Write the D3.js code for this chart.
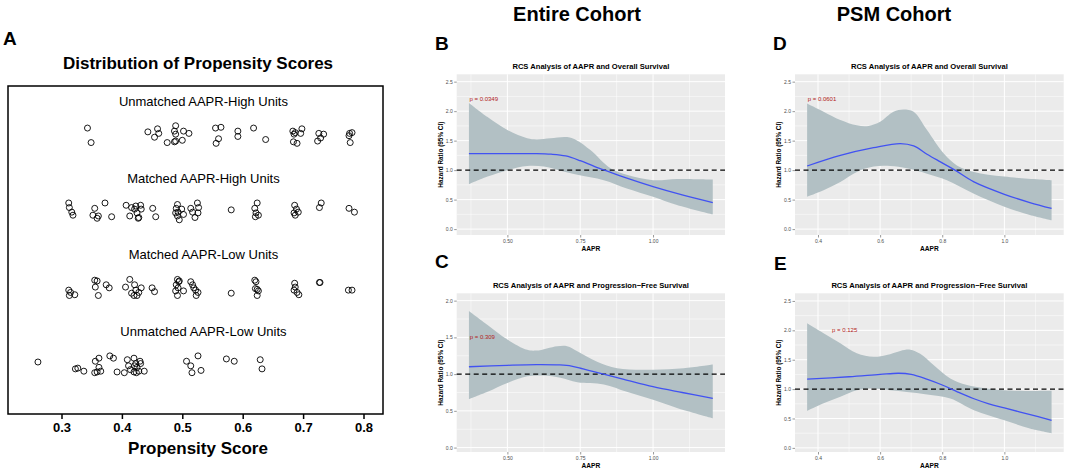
<!DOCTYPE html>
<html><head><meta charset="utf-8">
<script src="https://cdnjs.cloudflare.com/ajax/libs/d3/7.8.5/d3.min.js"></script>
<style>
body{margin:0;background:#fff}
svg{display:block;font-family:Arial,"Liberation Sans",sans-serif}
</style>
</head><body><div id="chart"></div>
<script>
// ---- panel A data: [propensity score, vertical jitter] ----
var scoreTicks = [0.3, 0.4, 0.5, 0.6, 0.7, 0.8];
var rowLabels = ["Unmatched AAPR-High Units", "Matched AAPR-High Units", "Matched AAPR-Low Units", "Unmatched AAPR-Low Units"];
var unmatchedHigh = [[0.343,0.09],[0.349,-0.10],[0.443,0.04],[0.454,-0.03],[0.459,0.08],[0.461,0.02],[0.475,-0.10],[0.489,0.12],[0.487,0.05],[0.489,0.01],[0.489,-0.08],[0.487,-0.09],[0.500,-0.07],[0.502,0.05],[0.511,0.02],[0.555,0.09],[0.564,0.10],[0.560,-0.05],[0.556,-0.11],[0.592,0.05],[0.592,-0.02],[0.618,0.09],[0.638,-0.06],[0.683,0.05],[0.685,0.01],[0.687,0.03],[0.684,-0.09],[0.690,-0.11],[0.698,0.08],[0.696,0.02],[0.726,0.02],[0.734,0.01],[0.729,-0.04],[0.724,-0.08],[0.777,0.02],[0.781,0.03],[0.776,-0.01],[0.778,-0.10]];
var matchedHigh = [[0.312,0.11],[0.313,0.05],[0.317,-0.01],[0.319,-0.05],[0.355,0.04],[0.352,-0.05],[0.359,-0.09],[0.361,-0.06],[0.372,0.11],[0.383,-0.07],[0.407,0.08],[0.416,0.05],[0.413,-0.06],[0.421,0.03],[0.425,-0.02],[0.428,-0.08],[0.423,0.07],[0.431,0.08],[0.432,0.03],[0.427,-0.09],[0.451,0.04],[0.456,-0.07],[0.492,0.09],[0.490,0.04],[0.489,-0.02],[0.493,-0.01],[0.495,-0.11],[0.499,0.03],[0.502,-0.04],[0.492,-0.06],[0.514,0.04],[0.517,-0.01],[0.521,-0.08],[0.525,0.11],[0.527,0.05],[0.526,-0.02],[0.581,0.02],[0.624,0.11],[0.620,0.04],[0.622,-0.02],[0.621,-0.07],[0.626,-0.05],[0.686,0.08],[0.689,0.03],[0.692,-0.01],[0.687,-0.05],[0.685,-0.02],[0.730,0.11],[0.727,0.05],[0.776,0.04],[0.785,-0.01]];
var matchedLow = [[0.312,-0.03],[0.315,-0.06],[0.322,-0.09],[0.313,-0.10],[0.355,0.10],[0.359,0.09],[0.356,0.01],[0.361,-0.10],[0.374,0.04],[0.379,0.00],[0.406,0.01],[0.413,0.11],[0.421,0.04],[0.416,-0.07],[0.423,-0.03],[0.425,-0.10],[0.428,-0.06],[0.432,0.00],[0.420,-0.10],[0.450,0.00],[0.454,-0.05],[0.492,0.11],[0.494,0.08],[0.490,0.04],[0.493,0.00],[0.489,-0.04],[0.492,-0.10],[0.495,0.09],[0.502,-0.04],[0.514,0.08],[0.517,0.04],[0.519,0.00],[0.522,-0.03],[0.526,-0.06],[0.523,-0.10],[0.581,-0.07],[0.620,0.10],[0.622,0.08],[0.621,-0.01],[0.624,-0.02],[0.626,-0.04],[0.624,-0.10],[0.686,0.06],[0.687,0.01],[0.685,-0.03],[0.690,-0.06],[0.693,-0.09],[0.727,0.07],[0.728,0.07],[0.775,-0.03],[0.781,-0.03]];
var unmatchedLow = [[0.261,0.03],[0.323,-0.06],[0.327,-0.05],[0.337,-0.09],[0.356,0.04],[0.355,-0.11],[0.362,0.08],[0.362,-0.04],[0.365,-0.09],[0.359,-0.10],[0.380,0.11],[0.386,0.08],[0.392,-0.10],[0.404,-0.11],[0.409,0.06],[0.411,-0.02],[0.420,0.08],[0.423,0.01],[0.414,-0.07],[0.425,-0.04],[0.430,0.04],[0.431,0.01],[0.424,-0.11],[0.420,-0.10],[0.428,-0.09],[0.437,-0.09],[0.421,-0.02],[0.507,0.04],[0.514,-0.02],[0.526,0.11],[0.516,-0.11],[0.531,-0.08],[0.573,0.07],[0.586,0.04],[0.629,0.06],[0.632,-0.06]];

// ---- RCS curves: [AAPR, hazard ratio] ----
var entireOsHr = [[0.368,1.28],[0.50,1.28],[0.60,1.28],[0.65,1.27],[0.70,1.24],[0.75,1.16],[0.80,1.06],[0.85,0.97],[0.90,0.88],[1.0,0.72],[1.10,0.58],[1.205,0.45]];
var entireOsUpper = [[0.368,2.14],[0.432,1.90],[0.50,1.68],[0.568,1.54],[0.60,1.52],[0.648,1.54],[0.705,1.56],[0.74,1.50],[0.785,1.34],[0.854,1.03],[0.91,0.92],[1.0,0.83],[1.082,0.85],[1.205,0.84]];
var entireOsLower = [[0.368,0.76],[0.432,0.89],[0.50,1.00],[0.568,1.07],[0.625,1.06],[0.682,0.99],[0.74,0.92],[0.831,0.83],[0.91,0.69],[1.0,0.55],[1.082,0.41],[1.205,0.25]];
var entirePfsHr = [[0.368,1.10],[0.50,1.12],[0.60,1.13],[0.68,1.125],[0.72,1.11],[0.76,1.07],[0.80,1.03],[0.84,0.99],[0.90,0.93],[1.0,0.83],[1.10,0.75],[1.205,0.67]];
var entirePfsUpper = [[0.368,1.86],[0.432,1.67],[0.50,1.47],[0.568,1.33],[0.60,1.32],[0.671,1.38],[0.705,1.38],[0.74,1.31],[0.808,1.17],[0.877,1.08],[1.0,1.06],[1.105,1.08],[1.205,1.13]];
var entirePfsLower = [[0.368,0.66],[0.432,0.76],[0.50,0.88],[0.568,0.97],[0.625,0.98],[0.682,0.95],[0.74,0.89],[0.831,0.86],[0.91,0.76],[1.0,0.65],[1.082,0.54],[1.205,0.40]];
var psmOsHr = [[0.365,1.07],[0.472,1.25],[0.579,1.38],[0.665,1.45],[0.708,1.41],[0.751,1.27],[0.794,1.14],[0.841,1.0],[0.902,0.80],[1.0,0.59],[1.082,0.45],[1.152,0.35]];
var psmOsUpper = [[0.365,2.13],[0.418,1.99],[0.472,1.85],[0.525,1.76],[0.563,1.75],[0.60,1.82],[0.643,1.99],[0.675,2.03],[0.708,1.99],[0.751,1.68],[0.805,1.28],[0.847,1.08],[0.902,0.97],[1.0,0.89],[1.152,0.83]];
var psmOsLower = [[0.365,0.55],[0.418,0.66],[0.472,0.80],[0.525,0.97],[0.579,1.06],[0.633,1.07],[0.686,1.03],[0.751,0.94],[0.815,0.83],[0.902,0.60],[1.0,0.38],[1.082,0.24],[1.152,0.15]];
var psmPfsHr = [[0.365,1.17],[0.50,1.21],[0.60,1.25],[0.66,1.27],[0.70,1.25],[0.75,1.17],[0.80,1.07],[0.85,0.95],[0.90,0.84],[0.95,0.75],[1.0,0.68],[1.08,0.57],[1.152,0.47]];
var psmPfsUpper = [[0.365,2.12],[0.418,1.95],[0.472,1.78],[0.525,1.61],[0.579,1.55],[0.621,1.58],[0.665,1.65],[0.697,1.67],[0.729,1.60],[0.772,1.41],[0.826,1.18],[0.88,1.07],[1.0,0.98],[1.152,0.97]];
var psmPfsLower = [[0.365,0.63],[0.418,0.76],[0.472,0.87],[0.525,0.98],[0.579,1.01],[0.633,0.98],[0.686,0.95],[0.751,0.91],[0.826,0.84],[0.902,0.64],[1.0,0.47],[1.082,0.33],[1.152,0.25]];

var entireXTicks = [0.50, 0.75, 1.00];
var psmXTicks = [0.4, 0.6, 0.8, 1.0];
var hrTicks = [0.0, 0.5, 1.0, 1.5, 2.0, 2.5];
var hrTicksPfs = [0.0, 0.5, 1.0, 1.5, 2.0];

var svg = d3.select("#chart").append("svg").attr("width", 1065).attr("height", 472);

// ---------- headers and panel letters ----------
svg.append("text").attr("x", 577).attr("y", 21).attr("text-anchor", "middle")
	.attr("font-size", 20).attr("font-weight", "bold").text("Entire Cohort");
svg.append("text").attr("x", 894).attr("y", 21).attr("text-anchor", "middle")
	.attr("font-size", 20).attr("font-weight", "bold").text("PSM Cohort");
var letters = [["A", 3, 45], ["B", 435, 50], ["C", 435, 268], ["D", 773, 50], ["E", 774, 270]];
letters.forEach(function(l){
	svg.append("text").attr("x", l[1]).attr("y", l[2]).attr("font-size", 19)
		.attr("font-weight", "bold").text(l[0]);
});

// ---------- panel A ----------
var box = {left: 8, right: 383, top: 86, bottom: 414};
var xs = d3.scaleLinear().domain([0.3, 0.8]).range([61.5, 363.5]);
var ys = d3.scaleLinear().domain([0.35, 4.64]).range([box.bottom, box.top]);

svg.append("text").attr("x", 198).attr("y", 69).attr("text-anchor", "middle")
	.attr("font-size", 17).attr("font-weight", "bold").text("Distribution of Propensity Scores");

var rows = [unmatchedHigh, matchedHigh, matchedLow, unmatchedLow];
rows.forEach(function(pts, i){
	var level = 4 - i;
	svg.append("text").attr("x", xs(0.535)).attr("y", ys(level + 0.42))
		.attr("text-anchor", "middle").attr("dominant-baseline", "middle")
		.attr("font-size", 13).text(rowLabels[i]);
	svg.append("g").selectAll("circle").data(pts).enter().append("circle")
		.attr("cx", function(d){ return xs(d[0]); })
		.attr("cy", function(d){ return ys(level + d[1]); })
		.attr("r", 3)
		.attr("fill", "none").attr("stroke", "#000").attr("stroke-width", 0.9);
});

svg.append("rect").attr("x", box.left).attr("y", box.top)
	.attr("width", box.right - box.left).attr("height", box.bottom - box.top)
	.attr("fill", "none").attr("stroke", "#000").attr("stroke-width", 1.5);

var axA = svg.append("g").attr("transform", "translate(0," + box.bottom + ")")
	.call(d3.axisBottom(xs).tickValues(scoreTicks).tickFormat(d3.format(".1f")).tickSize(5).tickPadding(4));
axA.select(".domain").remove();
axA.selectAll("line").attr("stroke-width", 1.5);
axA.selectAll("text").attr("font-size", 13).attr("font-weight", "bold")
	.attr("font-family", "Arial, 'Liberation Sans', sans-serif");
svg.append("text").attr("x", 198).attr("y", 454).attr("text-anchor", "middle")
	.attr("font-size", 17).attr("font-weight", "bold").text("Propensity Score");

// ---------- RCS panels ----------
function drawRcs(cfg){
	var g = svg.append("g");
	var x = d3.scaleLinear().domain(cfg.xDomain).range([cfg.left, cfg.right]);
	var y = d3.scaleLinear().domain(cfg.yDomain).range([cfg.bottom, cfg.top]);

	g.append("rect").attr("x", cfg.left).attr("y", cfg.top)
		.attr("width", cfg.right - cfg.left).attr("height", cfg.bottom - cfg.top).attr("fill", "#EBEBEB");

	var xMinor = [], yMinor = [];
	var step = cfg.xTicks[1] - cfg.xTicks[0];
	cfg.xTicks.forEach(function(t){
		[t - step/2, t + step/2].forEach(function(v){
			v = +v.toFixed(4);
			if (v > cfg.xDomain[0] && v < cfg.xDomain[1] && xMinor.indexOf(v) < 0) xMinor.push(v);
		});
	});
	cfg.yTicks.forEach(function(t){
		if (t + 0.25 < cfg.yDomain[1]) yMinor.push(t + 0.25);
	});
	g.selectAll(".xmin").data(xMinor).enter().append("line")
		.attr("x1", function(d){ return x(d); }).attr("x2", function(d){ return x(d); })
		.attr("y1", cfg.top).attr("y2", cfg.bottom).attr("stroke", "#fff").attr("stroke-width", 0.5);
	g.selectAll(".ymin").data(yMinor).enter().append("line")
		.attr("y1", function(d){ return y(d); }).attr("y2", function(d){ return y(d); })
		.attr("x1", cfg.left).attr("x2", cfg.right).attr("stroke", "#fff").attr("stroke-width", 0.5);
	g.selectAll(".xmaj").data(cfg.xTicks).enter().append("line")
		.attr("x1", function(d){ return x(d); }).attr("x2", function(d){ return x(d); })
		.attr("y1", cfg.top).attr("y2", cfg.bottom).attr("stroke", "#fff").attr("stroke-width", 1);
	g.selectAll(".ymaj").data(cfg.yTicks).enter().append("line")
		.attr("y1", function(d){ return y(d); }).attr("y2", function(d){ return y(d); })
		.attr("x1", cfg.left).attr("x2", cfg.right).attr("stroke", "#fff").attr("stroke-width", 1);

	var line = d3.line().x(function(d){ return x(d[0]); }).y(function(d){ return y(d[1]); })
		.curve(d3.curveCatmullRom.alpha(0.5));
	var upperPath = line(cfg.upper);
	var lowerPath = line(cfg.lower.slice().reverse());
	g.append("path").attr("d", upperPath + "L" + lowerPath.slice(1) + "Z")
		.attr("fill", "#b2c0c4").attr("stroke", "none");

	g.append("line").attr("x1", cfg.left).attr("x2", cfg.right)
		.attr("y1", y(1)).attr("y2", y(1))
		.attr("stroke", "#000").attr("stroke-width", 1.3).attr("stroke-dasharray", "5,3.5");

	g.append("path").attr("d", line(cfg.hr)).attr("fill", "none")
		.attr("stroke", "#4152f2").attr("stroke-width", 1.3);

	g.append("text").attr("x", x(cfg.pPos[0])).attr("y", y(cfg.pPos[1]))
		.attr("text-anchor", "middle").attr("dominant-baseline", "middle")
		.attr("font-size", 6).attr("fill", "#B22222").text(cfg.pText);

	var ax = g.append("g").attr("transform", "translate(" + cfg.left + ",0)")
		.call(d3.axisLeft(y).tickValues(cfg.yTicks).tickFormat(d3.format(".1f")).tickSize(2.5).tickPadding(1.5));
	var bx = g.append("g").attr("transform", "translate(0," + cfg.bottom + ")")
		.call(d3.axisBottom(x).tickValues(cfg.xTicks).tickFormat(d3.format(cfg.xFormat)).tickSize(2.5).tickPadding(1.5));
	[ax, bx].forEach(function(a){
		a.select(".domain").remove();
		a.selectAll("line").attr("stroke", "#333").attr("stroke-width", 0.5);
		a.selectAll("text").attr("font-size", 5).attr("fill", "#4d4d4d")
			.attr("font-family", "Arial, 'Liberation Sans', sans-serif");
	});

	g.append("text").attr("x", (cfg.left + cfg.right) / 2).attr("y", cfg.top - 5)
		.attr("text-anchor", "middle").attr("font-size", 7.6).attr("font-weight", "bold").text(cfg.title);
	g.append("text").attr("x", (cfg.left + cfg.right) / 2).attr("y", cfg.bottom + 16)
		.attr("text-anchor", "middle").attr("font-size", 6.6).attr("font-weight", "bold").text("AAPR");
	g.append("text").attr("transform", "translate(" + (cfg.left - 14) + "," + ((cfg.top + cfg.bottom) / 2) + ") rotate(-90)")
		.attr("text-anchor", "middle").attr("font-size", 6.4).attr("font-weight", "bold").text("Hazard Ratio (95% CI)");
}

drawRcs({left: 456.7, right: 725, top: 74.3, bottom: 235, xDomain: [0.326, 1.247], yDomain: [-0.1, 2.625],
	xTicks: entireXTicks, xFormat: ".2f", yTicks: hrTicks,
	title: "RCS Analysis of AAPR and Overall Survival", pText: "p = 0.0349", pPos: [0.419, 2.2],
	hr: entireOsHr, upper: entireOsUpper, lower: entireOsLower});
drawRcs({left: 456.7, right: 725, top: 293.3, bottom: 452, xDomain: [0.326, 1.247], yDomain: [-0.06, 2.1],
	xTicks: entireXTicks, xFormat: ".2f", yTicks: hrTicksPfs,
	title: "RCS Analysis of AAPR and Progression\u2212Free Survival", pText: "p = 0.309", pPos: [0.414, 1.5],
	hr: entirePfsHr, upper: entirePfsUpper, lower: entirePfsLower});
drawRcs({left: 795, right: 1063.7, top: 74.3, bottom: 235, xDomain: [0.326, 1.191], yDomain: [-0.1, 2.625],
	xTicks: psmXTicks, xFormat: ".1f", yTicks: hrTicks,
	title: "RCS Analysis of AAPR and Overall Survival", pText: "p = 0.0601", pPos: [0.413, 2.2],
	hr: psmOsHr, upper: psmOsUpper, lower: psmOsLower});
drawRcs({left: 795, right: 1063.7, top: 293.3, bottom: 452, xDomain: [0.326, 1.191], yDomain: [-0.07, 2.63],
	xTicks: psmXTicks, xFormat: ".1f", yTicks: hrTicks,
	title: "RCS Analysis of AAPR and Progression\u2212Free Survival", pText: "p = 0.125", pPos: [0.486, 2.0],
	hr: psmPfsHr, upper: psmPfsUpper, lower: psmPfsLower});
</script></body></html>
